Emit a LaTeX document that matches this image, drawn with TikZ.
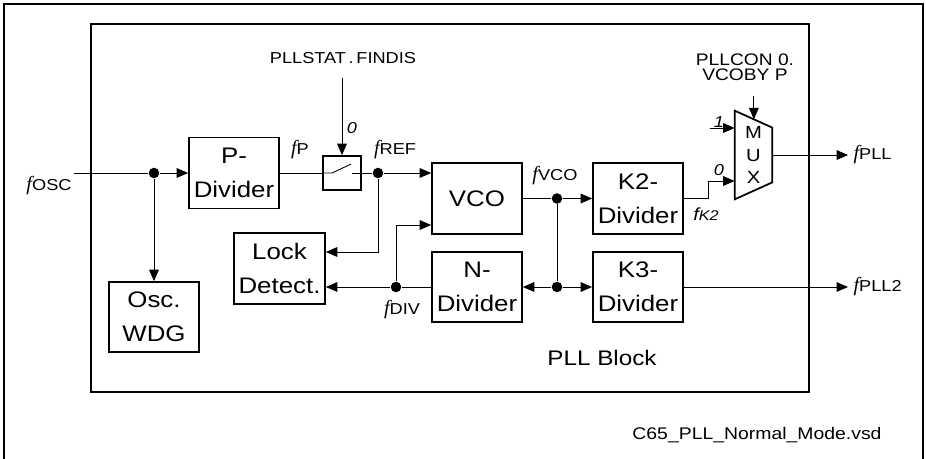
\documentclass[tikz,border=0pt]{standalone}
\usepackage{fontspec}
\setmainfont{Liberation Sans}[FakeStretch=1.15]
\newfontfamily\fserif{Liberation Serif}
\usetikzlibrary{positioning, arrows.meta, calc}

% frequency labels: serif italic f and a small upright suffix
\newcommand{\fq}[1]{{\fontsize{11.5}{11.5}\selectfont\fserif\itshape f}{\fontsize{9}{9}\selectfont #1}}

\tikzset{
  blk/.style={draw, line width=1pt, minimum width=1.8cm, minimum height=1.42cm,
    align=center, inner sep=0pt, font=\fontsize{12.8}{19.5}\selectfont},
  wire/.style={line width=0.5pt},
  sig/.style={wire, -{Triangle[length=6.5pt,width=5.5pt]}},
  jn/.style={circle, fill, inner sep=0pt, minimum size=6pt},
  lbl/.style={font=\fontsize{9}{11}\selectfont, inner sep=1pt},
  bit/.style={font=\fontsize{9}{9}\selectfont\itshape, inner sep=1pt},
}

\begin{document}
\begin{tikzpicture}
    \useasboundingbox (0,0) rectangle (18.52,-9.18);

    % 1. Outer frame (open at the bottom) and PLL block
    \draw[line width=1.2pt] (0.08,-9.18) -- (0.08,-0.08) -- (18.46,-0.08) -- (18.46,-9.18);
    \draw[line width=1.2pt] (1.82,-0.48) rectangle (16.18,-7.84);
    \node[font=\fontsize{12}{12}\selectfont] (pllname) at (12.04,-7.16) {PLL Block};
    \node[font=\fontsize{9.6}{10}\selectfont] (vsd) at (15.14,-8.7) {C65\_PLL\_Normal\_Mode.vsd};

    % 2. Blocks
    \node[blk] (pdiv) at (4.68,-3.46) {P-\\Divider};
    \node[blk, minimum height=1.4cm] (wdg) at (3.08,-6.34) {Osc.\\WDG};
    \node[blk, minimum width=1.82cm] (lock) at (5.59,-5.37) {Lock\\Detect.};
    \node[blk] (vco) at (9.54,-3.97) {VCO};
    \node[blk, minimum height=1.4cm] (ndiv) at (9.54,-5.74) {N-\\Divider};
    \node[blk] (k2) at (12.76,-3.97) {K2-\\Divider};
    \node[blk, minimum height=1.4cm] (k3) at (12.76,-5.74) {K3-\\Divider};

    % 3. Switch
    \node[draw, line width=1pt, minimum width=0.76cm, minimum height=0.68cm] (sw) at (6.84,-3.46) {};
    \draw[wire] (sw.west) -- ++(0.2,0) -- ++(0.38,0.18);
    \draw[wire] (sw.east) -- ++(-0.2,0);

    % 4. Multiplexer
    \node[minimum width=0.74cm, minimum height=1.76cm, inner sep=0pt, align=center,
      font=\fontsize{10}{12.8}\selectfont] (mux) at (15.07,-3.1) {M\\U\\X};
    \draw[line width=1pt] (mux.north west) -- ([yshift=-0.34cm]mux.north east)
      -- ([yshift=0.34cm]mux.south east) -- (mux.south west) -- cycle;
    \coordinate (mux1) at ([yshift=0.54cm]mux.west);
    \coordinate (mux0) at ([yshift=-0.52cm]mux.west);
    \coordinate (muxsel) at ($(mux.north west)!0.51!([yshift=-0.34cm]mux.north east)$);

    % 5. Junction dots
    \node[jn] (dosc) at (3.08,-3.46) {};
    \node[jn] (dref) at (7.56,-3.46) {};
    \node[jn] (ddiv) at (7.92,-5.74) {};
    \node[jn] (dvco) at (11.14,-3.97) {};
    \node[jn] (dn) at (11.14,-5.74) {};

    % 6. Labels
    \node[lbl] (findis) at (6.86,-1.17) {PLLSTAT\,.\,FINDIS};
    \node[lbl, align=center, font=\fontsize{9.5}{8.5}\selectfont] (pllcon) at (14.9,-1.34) {PLLCON 0.\\VCOBY P};
    \node[bit] (b0sw) at (7.04,-2.56) {0};
    \node[bit] (b1) at (14.38,-2.44) {1};
    \node[bit] (b0) at (14.38,-3.4) {0};
    \node (fosc) at (0.98,-3.72) {\fq{OSC}};
    \node (fp) at (6.0,-3.0) {\fq{P}};
    \node (fref) at (7.9,-3.0) {\fq{REF}};
    \node (fvco) at (11.1,-3.52) {\fq{VCO}};
    \node (fdiv) at (8.04,-6.2) {\fq{DIV}};
    \node (fk2) at (14.12,-4.28) {{\fontsize{10}{10}\selectfont\itshape f}{\fontsize{8}{8}\selectfont\itshape K2}};
    \node[anchor=west, inner sep=3pt] (fpll) at (16.96,-3.1) {\fq{PLL}};
    \node[anchor=west, inner sep=3pt] (fpll2) at (16.96,-5.74) {\fq{PLL2}};

    % 7. Connections
    \coordinate (oscin) at (1.48,-3.46);
    \draw[wire] (oscin) -- (dosc);
    \draw[sig] (dosc) -- (pdiv);
    \draw[sig] (dosc) -- (wdg);
    \draw[wire] (pdiv) -- (sw);
    \draw[wire] (sw) -- (dref);
    \draw[sig, shorten <=0.24cm] (sw.north |- findis.south) -- (sw);
    \draw[sig] (dref) -- (dref -| vco.west);
    \draw[sig] (dref) |- ([yshift=0.33cm]lock.east);
    \draw[wire] (ndiv) -- (ddiv);
    \draw[sig] (ddiv) -- (ddiv -| lock.east);
    \draw[sig] (ddiv) |- ([yshift=-0.53cm]vco.west);
    \draw[wire] (vco) -- (dvco);
    \draw[sig] (dvco) -- (k2);
    \draw[wire] (dvco) -- (dn);
    \draw[sig] (dn) -- (ndiv);
    \draw[sig] (dn) -- (k3);
    \draw[sig] (k2.east) -- ++(0.5,0) |- (mux0);
    \coordinate (in1) at ([xshift=-0.5cm]mux1);
    \draw[sig] (in1) -- (mux1);
    \draw[sig, shorten <=0.28cm] (muxsel |- pllcon.south) -- (muxsel);
    \draw[sig] (mux.east) -- (fpll);
    \draw[sig] (k3) -- (fpll2);

\end{tikzpicture}
\end{document}
